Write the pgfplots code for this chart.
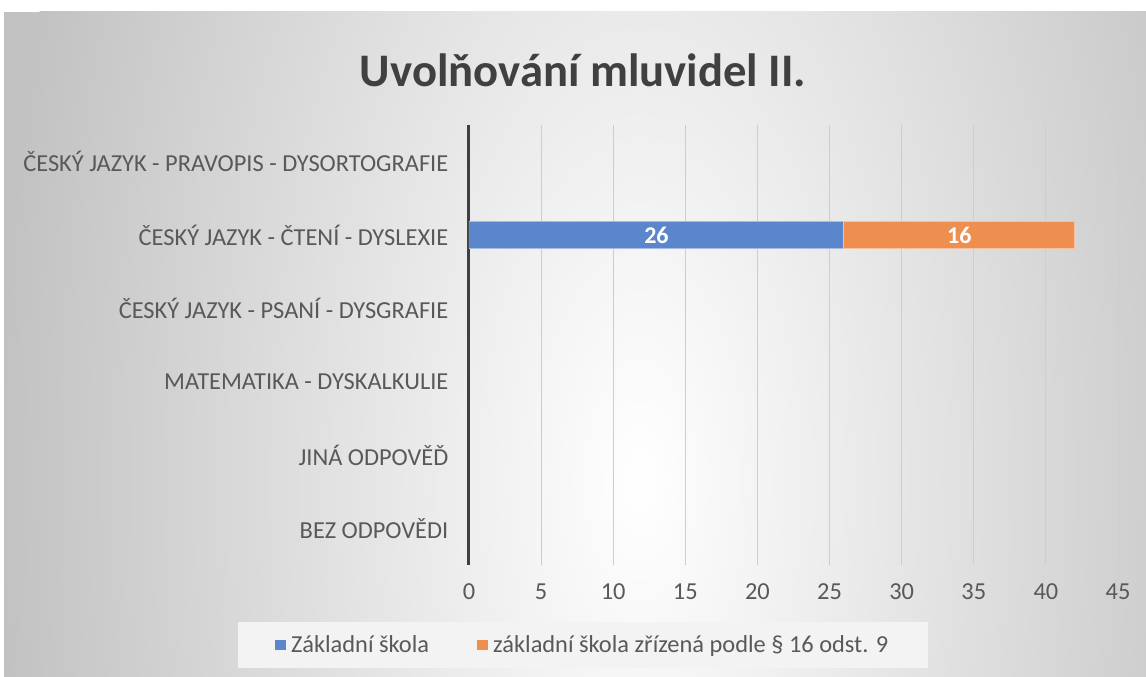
\documentclass[border=0pt]{standalone}
\usepackage{pgfplots}
\pgfplotsset{compat=1.18}
\usepackage{fontspec}
\setmainfont{Carlito}
\definecolor{zsblue}{RGB}{91,134,204}
\definecolor{zsorange}{RGB}{239,143,79}
\definecolor{txt}{RGB}{89,89,89}
\definecolor{ttl}{RGB}{64,64,64}
\definecolor{gridc}{RGB}{205,205,205}
\definecolor{legbg}{RGB}{243,243,243}
\definecolor{bgout}{RGB}{194,194,194}
\pgfplotsset{sqlegend/.style={legend image code/.code={\fill[##1, draw=none] (0pt,-4pt) rectangle (8pt,4pt);}}}
\begin{document}
\begin{tikzpicture}
\begin{scope}[x=0.75pt,y=-0.75pt]
\fill[white] (0,0) rectangle (1146,677);
\begin{scope}
\clip (4,12) rectangle (1146,677);
\fill[bgout] (4,12) rectangle (1146,677);
\shade[inner color=white, outer color=bgout] (640,480) ellipse (640 and 1350);
\end{scope}
\node[font=\fontsize{35}{42}\selectfont\bfseries, text=ttl] at (583,70) {Uvolňování mluvidel II.};
\end{scope}
\begin{axis}[
  at={(351.75pt,-423.75pt)}, anchor=south west,
  scale only axis, width=486.75pt, height=330pt,
  xmin=0, xmax=45, ymin=-0.5, ymax=5.5, y dir=reverse,
  xtick={0,5,...,45}, ytick={0,...,5},
  yticklabels={ČESKÝ JAZYK - PRAVOPIS - DYSORTOGRAFIE, ČESKÝ JAZYK - ČTENÍ - DYSLEXIE, ČESKÝ JAZYK - PSANÍ - DYSGRAFIE, MATEMATIKA - DYSKALKULIE, JINÁ ODPOVĚĎ, BEZ ODPOVĚDI},
  xmajorgrids, major grid style={gridc, line width=0.75pt},
  axis y line*=left, axis x line*=bottom,
  y axis line style={-, line width=2.25pt, color=ttl},
  x axis line style={draw=none},
  major tick length=0pt, tick style={draw=none},
  ticklabel style={font=\fontsize{18.3}{22}\selectfont, text=txt},
  /pgf/number format/assume math mode=true,
  xticklabel style={yshift=-10.5pt},
  yticklabel style={xshift=-12pt},
  bar width=20.25pt,
  legend style={at={(0.1757,-0.182)}, anchor=center, legend columns=2,
    fill=legbg, draw=none, font=\fontsize{18.3}{22}\selectfont, text=txt,
    inner xsep=28pt, inner ysep=8pt,
    /tikz/every odd column/.append style={column sep=2pt},
    /tikz/every even column/.append style={column sep=34pt}},
]
\addplot[xbar stacked, sqlegend, fill=zsblue, draw=zsblue!55!white, line width=0.75pt] coordinates {(26,1)};
\addlegendentry{Základní škola}
\addplot[xbar stacked, sqlegend, fill=zsorange, draw=zsorange!55!white, line width=0.75pt] coordinates {(16,1)};
\addlegendentry{základní škola zřízená podle § 16 odst. 9}
\addplot[forget plot, only marks, mark=none, nodes near coords, point meta=explicit symbolic,
  every node near coord/.append style={anchor=center, font=\fontsize{18}{22}\selectfont\bfseries, text=white}]
  coordinates {(13,1)[26] (34,1)[16]};
\end{axis}
\end{tikzpicture}
\end{document}
